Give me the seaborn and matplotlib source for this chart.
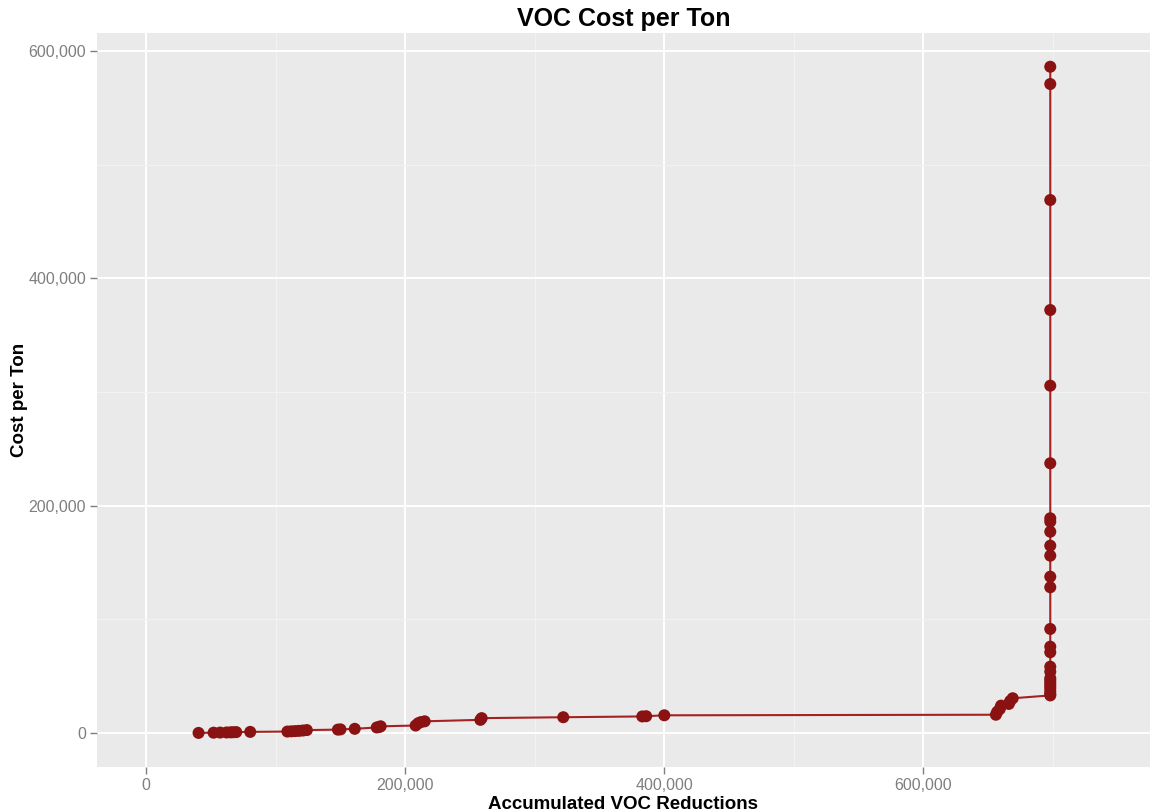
import seaborn as sns
import matplotlib.pyplot as plt
import matplotlib.ticker as mticker
import pandas as pd

# accumulated VOC reductions (tons) and cost per ton
reductions = [40400, 52000, 57000, 62000, 65000, 67000, 69500, 80300,
              109000, 112000, 115000, 118000, 121000, 124000,
              148000, 150000, 161000, 178000, 180000, 181000,
              208000, 210000, 212000, 215000, 258000, 259000,
              322000, 383000, 386000, 400000,
              656000, 657000, 659000, 660000, 666000, 667000, 669000] + [698000] * 26
cost_per_ton = [0, 200, 300, 400, 500, 600, 700, 900,
                1200, 1400, 1600, 1800, 2100, 2500,
                2900, 3100, 3600, 4800, 5300, 5800,
                6500, 8500, 9500, 10200, 11500, 13000,
                13800, 14500, 14700, 15500,
                16000, 18500, 21000, 24000, 25500, 28000, 30500,
                33000, 34100, 36500, 39300, 41500, 43700, 46000, 48100,
                53900, 58300, 71000, 75900, 91500, 128200, 137500,
                156000, 164800, 177100, 185900, 188900, 237300,
                305600, 372200, 469000, 571100, 586300]

df = pd.DataFrame({"reductions": reductions, "cost": cost_per_ton})

sns.set_theme(style="darkgrid", rc={"axes.facecolor": "#EAEAEA",
                                    "grid.color": "white",
                                    "text.color": "black",
                                    "axes.labelcolor": "black"})
plt.rcParams["font.family"] = ["Liberation Sans", "DejaVu Sans"]

fig = plt.figure(figsize=(11.5, 8.11), dpi=100)
ax = fig.add_axes([97 / 1150, 44 / 811, 1053 / 1150, 734 / 811])

sns.lineplot(data=df, x="reductions", y="cost", estimator=None, sort=True,
             color="#A52222", linewidth=1.5, ax=ax, zorder=3)
sns.scatterplot(data=df, x="reductions", y="cost", color="#8B1212",
                s=75, edgecolor="none", ax=ax, zorder=4)

ax.set_xlim(-38000, 775000)
ax.set_ylim(-30000, 616000)
ax.xaxis.set_major_locator(mticker.MultipleLocator(200000))
ax.yaxis.set_major_locator(mticker.MultipleLocator(200000))
ax.xaxis.set_minor_locator(mticker.MultipleLocator(100000))
ax.yaxis.set_minor_locator(mticker.MultipleLocator(100000))
fmt = mticker.FuncFormatter(lambda v, p: f"{int(v):,}")
ax.xaxis.set_major_formatter(fmt)
ax.yaxis.set_major_formatter(fmt)
ax.grid(which="major", color="white", linewidth=1.4)
ax.grid(which="minor", color="#F2F2F2", linewidth=0.8)
ax.tick_params(which="major", length=5, width=1, color="#7F7F7F",
               labelcolor="#7F7F7F", labelsize=11.5, direction="out",
               bottom=True, left=True, pad=3)
ax.tick_params(which="minor", length=0)
for s in ax.spines.values():
    s.set_visible(False)

ax.set_xlabel("Accumulated VOC Reductions", fontsize=13.5, fontweight="bold",
              labelpad=2)
ax.set_ylabel("Cost per Ton", fontsize=13.5, fontweight="bold", labelpad=0)
ax.set_title("VOC Cost per Ton", fontsize=18, fontweight="bold", pad=5)

fig.savefig("out.png", dpi=100)
